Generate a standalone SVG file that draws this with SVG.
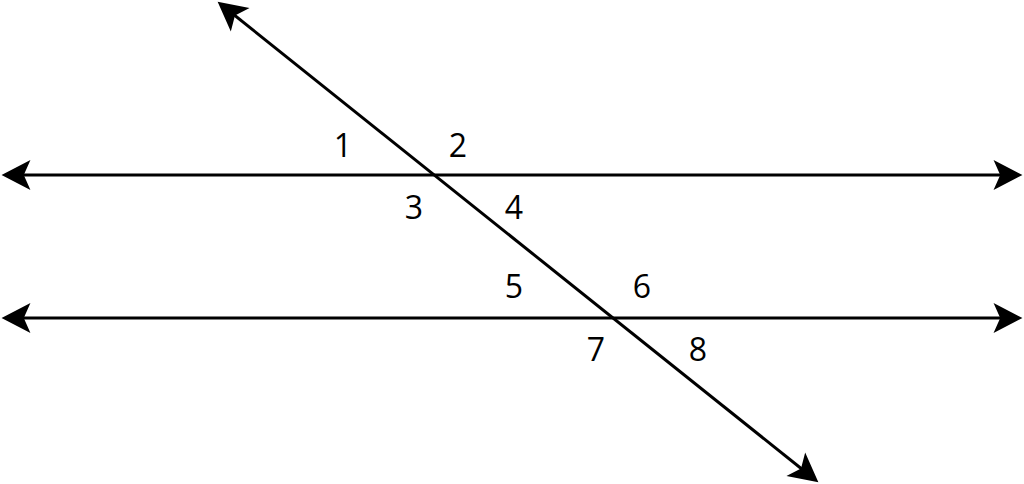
<svg xmlns="http://www.w3.org/2000/svg" width="1024" height="484" viewBox="0 0 1024 484">
<style>
.ln{stroke:#000;stroke-width:3;fill:none;marker-start:url(#ah);marker-end:url(#ah)}
.lb{font-family:"Open Sans","Liberation Sans",sans-serif;font-size:32px;fill:#000;text-anchor:middle}
</style>
<defs>
<marker id="ah" markerUnits="userSpaceOnUse" markerWidth="40" markerHeight="40" viewBox="-30 -16 36 32" refX="-4" refY="0" orient="auto-start-reverse" overflow="visible">
<path d="M0,0 L-26,-13.5 L-20,0 L-26,13.5 Z" fill="#000"/>
</marker>
</defs>
<rect width="1024" height="484" fill="#fff"/>
<g id="connectors">
<line class="ln" x1="6" y1="175" x2="1018" y2="175"/>
<line class="ln" x1="6" y1="318" x2="1018" y2="318"/>
<line class="ln" x1="221.1" y1="4.5" x2="814.9" y2="479.5"/>
</g>
<g id="labels">
<text class="lb" x="343" y="157">1</text>
<text class="lb" x="458" y="157">2</text>
<text class="lb" x="414" y="219">3</text>
<text class="lb" x="514" y="219">4</text>
<text class="lb" x="514" y="298">5</text>
<text class="lb" x="642" y="298">6</text>
<text class="lb" x="596" y="361">7</text>
<text class="lb" x="698" y="361">8</text>
</g>
</svg>
